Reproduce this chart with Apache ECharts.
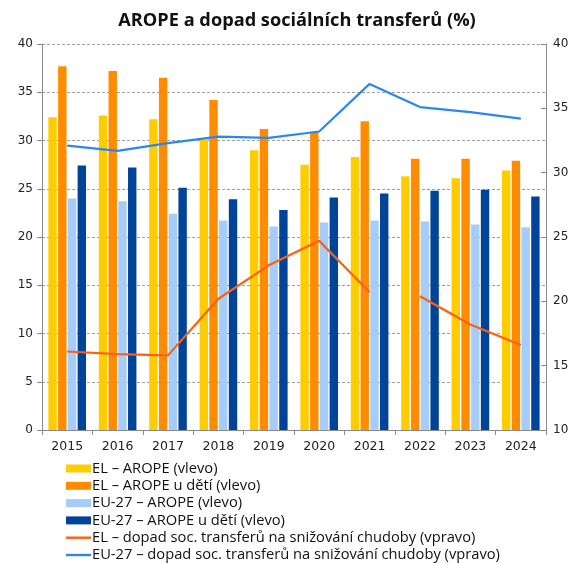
<!DOCTYPE html>
<html>
<head>
<meta charset="utf-8">
<script src="https://cdn.jsdelivr.net/npm/echarts@6/dist/echarts.min.js"></script>
<style>
  html, body { margin: 0; padding: 0; background: #fff; }
  #chart { width: 573px; height: 563px; }
</style>
</head>
<body>
<div id="chart"></div>
<script>
// Years on the category axis
const years = ['2015', '2016', '2017', '2018', '2019', '2020', '2021', '2022', '2023', '2024'];

// AROPE rates, left axis (%)
const elArope      = [32.4, 32.6, 32.2, 30.1, 29.0, 27.5, 28.3, 26.3, 26.1, 26.9];
const elAropeKids  = [37.7, 37.2, 36.5, 34.2, 31.2, 30.9, 32.0, 28.1, 28.1, 27.9];
const euArope      = [24.0, 23.7, 22.4, 21.7, 21.1, 21.5, 21.7, 21.6, 21.3, 21.0];
const euAropeKids  = [27.4, 27.2, 25.1, 23.9, 22.8, 24.1, 24.5, 24.8, 24.9, 24.2];

// Impact of social transfers on poverty reduction, right axis (%)
// The Greek series is drawn in two pieces (break between 2021 and 2022)
const elImpactA    = [16.1, 15.9, 15.8, 20.2, 22.8, 24.7, 20.7, null, null, null];
const elImpactB    = [null, null, null, null, null, null, null, 20.4, 18.2, 16.6];
const euImpact     = [32.1, 31.7, 32.3, 32.8, 32.7, 33.2, 36.9, 35.1, 34.7, 34.2];

// Axis ticks
const leftTicks  = { min: 0, max: 40, step: 5 };
const rightTicks = { min: 10, max: 40, step: 5 };

const names = [
  'EL – AROPE (vlevo)',
  'EL – AROPE u dětí (vlevo)',
  'EU-27 – AROPE (vlevo)',
  'EU-27 – AROPE u dětí (vlevo)',
  'EL – dopad soc. transferů na snižování chudoby (vpravo)',
  'EU-27 – dopad soc. transferů na snižování chudoby (vpravo)'
];
const colors = ['#FFCC00', '#FF8C00', '#A6CCFA', '#00449A', '#FF6010', '#2B87F0'];

const axisFont = 'Verdana, "DejaVu Sans", sans-serif';
const textFont = '"Open Sans", "DejaVu Sans", sans-serif';
const chart = echarts.init(document.getElementById('chart'));

const bar = (i, data) => ({
  name: names[i], type: 'bar', data, barWidth: 8.4, barGap: '16%',
  itemStyle: { color: colors[i] }
});
const line = (i, data) => ({
  name: names[i], type: 'line', yAxisIndex: 1, data, symbol: 'none',
  connectNulls: false, z: 5,
  lineStyle: { color: colors[i], width: 2.2 }, itemStyle: { color: colors[i] }
});

const valueAxis = (t, pos) => ({
  type: 'value', position: pos, min: t.min, max: t.max, interval: t.step,
  axisLine: { show: true, lineStyle: { color: '#8a8a8a', width: 1 } },
  axisTick: { show: true, inside: pos === 'right', length: 5, lineStyle: { color: '#8a8a8a' } },
  axisLabel: { color: '#222', fontSize: 12, fontFamily: axisFont, margin: pos === 'right' ? 7 : 9 },
  splitLine: pos === 'left'
    ? { show: true, lineStyle: { color: '#a0a0a0', type: [3, 2], width: 1 } }
    : { show: false }
});

chart.setOption({
  backgroundColor: '#ffffff',
  animation: false,
  title: {
    text: 'AROPE a dopad sociálních transferů (%)',
    left: 292, top: 7, textAlign: 'center',
    textStyle: { fontFamily: textFont, fontWeight: 'bold', fontSize: 18.2, color: '#111' }
  },
  grid: { left: 42, right: 27, top: 44, bottom: 133 },
  legend: {
    orient: 'vertical', left: 66, top: 461, width: 480, height: 130,
    itemGap: 2.3, padding: 0,
    itemWidth: 25, itemHeight: 8,
    textStyle: { fontFamily: textFont, fontSize: 14.7, lineHeight: 14, color: '#111', padding: [0, 0, 0, -4] },
    data: names.map((n, i) => i < 4
      ? { name: n, icon: 'rect' }
      : { name: n, icon: 'path://M0,0 L25,0 L25,2.4 L0,2.4 Z' })
  },
  xAxis: {
    type: 'category', data: years,
    axisLine: { lineStyle: { color: '#8a8a8a' } },
    axisTick: { show: true, length: 5, lineStyle: { color: '#8a8a8a' } },
    axisLabel: { color: '#222', fontSize: 12.5, fontFamily: axisFont, margin: 10 }
  },
  yAxis: [valueAxis(leftTicks, 'left'), valueAxis(rightTicks, 'right')],
  series: [
    bar(0, elArope), bar(1, elAropeKids), bar(2, euArope), bar(3, euAropeKids),
    line(4, elImpactA), line(4, elImpactB), line(5, euImpact)
  ]
});
</script>
</body>
</html>
